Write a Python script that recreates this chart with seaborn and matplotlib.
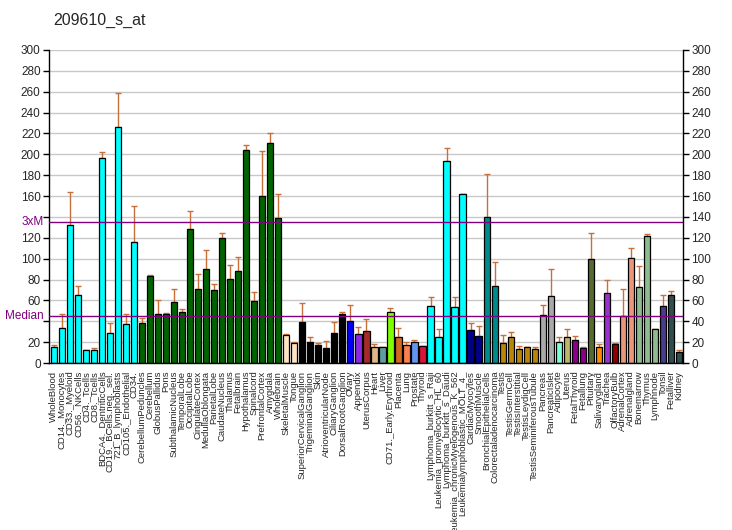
import matplotlib
matplotlib.use("Agg")
import matplotlib.pyplot as plt
import matplotlib.transforms as mtransforms
import seaborn as sns
import numpy as np
import pandas as pd

# dados
tecidos = [
    "WholeBlood", "CD14._Monocytes", "CD33._Myeloid", "CD56._NKCells", "CD4._Tcells",
    "CD8._Tcells", "BDCA4._DentriticCells", "CD19._BCells.neg._sel.", "721_B_lymphoblasts",
    "CD105._Endothelial", "CD34.", "CerebellumPeduncles", "Cerebellum", "GlobusPallidus",
    "Pons", "SubthalamicNucleus", "TemporalLobe", "OccipitalLobe", "CingulateCortex",
    "MedullaOblongata", "ParietalLobe", "CaudateNucleus", "Thalamus", "Fetalbrain",
    "Hypothalamus", "Spinalcord", "PrefrontalCortex", "Amygdala", "Wholebrain",
    "SkeletalMuscle", "Tongue", "SuperiorCervicalGanglion", "TrigeminalGanglion", "Skin",
    "AtrioventricularNode", "CiliaryGanglion", "DorsalRootGanglion", "Ovary", "Appendix",
    "UterusCorpus", "Heart", "Liver", "CD71._Early.Erythroid", "Placenta", "Lung",
    "Prostate", "Thyroid", "Lymphoma_burkitt_s_Raji", "Leukemia_promyelocytic_HL_60",
    "Lymphoma_burkitt_s_Daudi", "Leukemia_chronicMyelogenous_K_562",
    "Leukemialymphoblastic_MOLT_4_", "CardiacMyocytes", "SmoothMuscle",
    "BronchialEpithelialCells", "Colorectaladenocarcinoma", "Testis", "TestisGermCell",
    "TestisInterstitial", "TestisLeydigCell", "TestisSeminiferousTubule", "Pancreas",
    "PancreaticIslet", "Adipocyte", "Uterus", "FetalThyroid", "Fetallung", "Pituitary",
    "Salivarygland", "Trachea", "OlfactoryBulb", "AdrenalCortex", "Adrenalgland",
    "Bonemarrow", "Thymus", "Lymphnode", "Tonsil", "Fetalliver", "Kidney",
]

valores = [
    15.6, 33.7, 132.7, 65, 12, 12.7, 196.5, 28.9, 226, 37.5, 115.6,
    38.4, 83.2, 47, 47, 58.4, 48.9, 128.9, 70.8, 89.8, 69.8, 119.4, 80.3, 87.9,
    204, 59.7, 160.3, 210.8, 139.4,
    27, 19.4, 39.7, 19.7, 16.8, 14, 28.3, 47, 40.6, 28, 30.2, 15.6, 15.6, 48.9,
    25, 17.5, 20.6, 16.5, 54.6, 25, 193.7, 53.7, 162.2, 31.7, 26, 140.3, 73.7,
    19.4, 25, 13.7, 15.6, 13.7, 46, 64.1, 20.3, 25, 22.2, 14.6, 99.4, 15.6, 67,
    18.4, 45, 100.3, 72.7, 121.3, 32.7, 54.6, 65, 10.8,
]

# topo da barra de erro (valor + desvio)
topo_erro = [
    17.5, 47, 164, 73.6, 12.7, 14.6, 202, 38.4, 259, 47, 150,
    42.9, 84, 60.3, 48, 70.5, 51.7, 146, 85.7, 108, 75.6, 125, 93.7, 102,
    209, 68, 203, 220.3, 162,
    27.9, 20.3, 57.5, 25, 19.4, 21.3, 39.4, 48.9, 55.6, 34.6, 42.2, 18.4, 15.6, 52.7,
    33.7, 20.3, 21.6, 16.5, 63.2, 32.7, 206, 63.2, 162.2, 38.4, 35.6, 181.3, 96.5,
    27, 29.8, 16.5, 15.6, 15.6, 55.6, 89.8, 25, 32.7, 26, 15.6, 125, 18.4, 79.4,
    19.4, 70.8, 109.8, 92.7, 123.2, 32.7, 65, 68.9, 12.7,
]

cores = (
    ["#00FFFF"] * 11 + ["#006400"] * 18 + ["#FFE4C4"] * 2 + ["#000000"] * 6
    + ["#0000FF", "#8A2BE2", "#A52A2A", "#DEB887", "#5F9EA0", "#7FFF00",
       "#D2691E", "#FF7F50", "#6495ED", "#DC143C"]
    + ["#00FFFF"] * 5 + ["#00008B"] * 2 + ["#008B8B"] * 2 + ["#B8860B"] * 5
    + ["#A9A9A9"] * 2 + ["#7FFFD4", "#BDB76B"] + ["#8B008B"] * 2
    + ["#556B2F", "#FF8C00", "#9932CC", "#8B0000"] + ["#E9967A"] * 2
    + ["#8FBC8F"] * 3 + ["#483D8B"] + ["#2F4F4F"] * 2
)

MEDIANA = 45.1
TRES_M = 135.5
ROXO = "#800080"

df = pd.DataFrame({"tecido": tecidos, "valor": valores, "topo": topo_erro})

sns.set_style("white")
plt.rcParams["font.family"] = ["Liberation Sans", "DejaVu Sans"]

fig = plt.figure(figsize=(7.32, 5.30), dpi=100)
ax = fig.add_axes([49 / 732, 167 / 530, 634 / 732, 313 / 530])

# grade
for yv in range(20, 301, 20):
    ax.axhline(yv, color="#C8C8C8", lw=1, zorder=0)

pos = np.arange(len(df))
ax.errorbar(pos, df["valor"], yerr=[np.zeros(len(df)), df["topo"] - df["valor"]],
            fmt="none", ecolor="#C8703A", elinewidth=1, capsize=2.5, capthick=1, zorder=1)

sns.barplot(data=df, x="tecido", y="valor", hue="tecido", palette=cores, legend=False,
            width=0.78, edgecolor="black", linewidth=0.9, saturation=1, ax=ax, zorder=2)

ax.axhline(TRES_M, color=ROXO, lw=1, zorder=3)
ax.axhline(MEDIANA, color=ROXO, lw=1, zorder=3)

ax.set_xlim(-0.6, len(df) - 0.5)
ax.set_ylim(0, 300)
ax.set_xlabel("")
ax.set_ylabel("")

yt = list(range(0, 301, 20))
ax.set_yticks(yt)
ax.set_yticklabels(["" if v in (40, 140) else str(v) for v in yt], fontsize=8.5)
ax.set_xticks(pos)
ax.set_xticklabels(df["tecido"], rotation=90, fontsize=6.8)
ax.tick_params(axis="both", direction="out", length=4, width=1, color="black", pad=1.5)
ax.tick_params(axis="y", pad=2)

for lado in ["top", "right"]:
    ax.spines[lado].set_visible(False)
for lado in ["left", "bottom"]:
    ax.spines[lado].set_color("black")
    ax.spines[lado].set_linewidth(1)

trans = mtransforms.blended_transform_factory(ax.transAxes, ax.transData)
ax.text(-0.008, TRES_M, "3xM", color=ROXO, fontsize=8.5, ha="right", va="center", transform=trans)
ax.text(-0.008, MEDIANA, "Median", color=ROXO, fontsize=8.5, ha="right", va="center", transform=trans)

ax2 = ax.twinx()
ax2.set_ylim(0, 300)
ax2.set_yticks(yt)
ax2.set_yticklabels([str(v) for v in yt], fontsize=8.5)
ax2.tick_params(axis="y", direction="out", length=4, width=1, color="black", pad=2)
for lado in ["top", "left", "bottom"]:
    ax2.spines[lado].set_visible(False)
ax2.spines["right"].set_color("black")
ax2.spines["right"].set_linewidth(1)

fig.text(53 / 732, 1 - 20 / 530, "209610_s_at", fontsize=11.5, ha="left", va="center")

fig.savefig("out.png", dpi=100)
